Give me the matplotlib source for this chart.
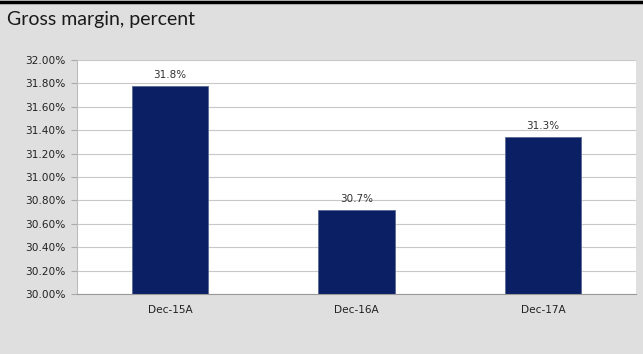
import matplotlib.pyplot as plt
from matplotlib.lines import Line2D

categories = ['Dec-15A', 'Dec-16A', 'Dec-17A']
margin = [31.78, 30.72, 31.34]
bar_labels = ['31.8%', '30.7%', '31.3%']
yticks = [30.0, 30.2, 30.4, 30.6, 30.8, 31.0, 31.2, 31.4, 31.6, 31.8, 32.0]

plt.rcParams['font.family'] = ['DejaVu Sans']

fig = plt.figure(figsize=(6.43, 3.54), dpi=100, facecolor='#dfdfdf')
ax = fig.add_axes([77 / 643, 1 - 294 / 354, (636 - 77) / 643, (294 - 60) / 354])
ax.set_facecolor('white')

x = range(len(categories))
ax.bar(x, [v - 30 for v in margin], bottom=30, width=0.41, color='#0a1f64',
       edgecolor='#5a6a90', linewidth=0.6, zorder=3)
for i, v in enumerate(margin):
    ax.text(i, v + 0.05, bar_labels[i], ha='center', va='bottom', fontsize=7.5,
            color='#333333')

ax.set_xlim(-0.5, 2.5)
ax.set_ylim(30, 32)
ax.set_yticks(yticks)
ax.set_yticklabels(['%.2f%%' % t for t in yticks], fontsize=7.6, color='#222222')
ax.set_xticks(list(x))
ax.set_xticklabels(categories, fontsize=7.6, color='#222222')
ax.tick_params(axis='x', length=0, pad=8)
ax.tick_params(axis='y', length=4, color='#aaaaaa', pad=4)
ax.yaxis.grid(True, color='#c8c8c8', linewidth=0.8, zorder=0)

for s in ['top', 'right']:
    ax.spines[s].set_visible(False)
ax.spines['left'].set_color('#bbbbbb')
ax.spines['left'].set_linewidth(0.8)
ax.spines['bottom'].set_color('#999999')
ax.spines['bottom'].set_zorder(4)

fig.text(7 / 643, 1 - 20 / 354, 'Gross margin, percent', fontsize=14,
         family=['Lato', 'DejaVu Sans'], color='#1a1a1a', va='center', ha='left')
fig.add_artist(Line2D([0, 1], [1 - 2 / 354, 1 - 2 / 354], color='black',
                      linewidth=2.5, transform=fig.transFigure))

fig.savefig('out.png', dpi=100, facecolor=fig.get_facecolor())
